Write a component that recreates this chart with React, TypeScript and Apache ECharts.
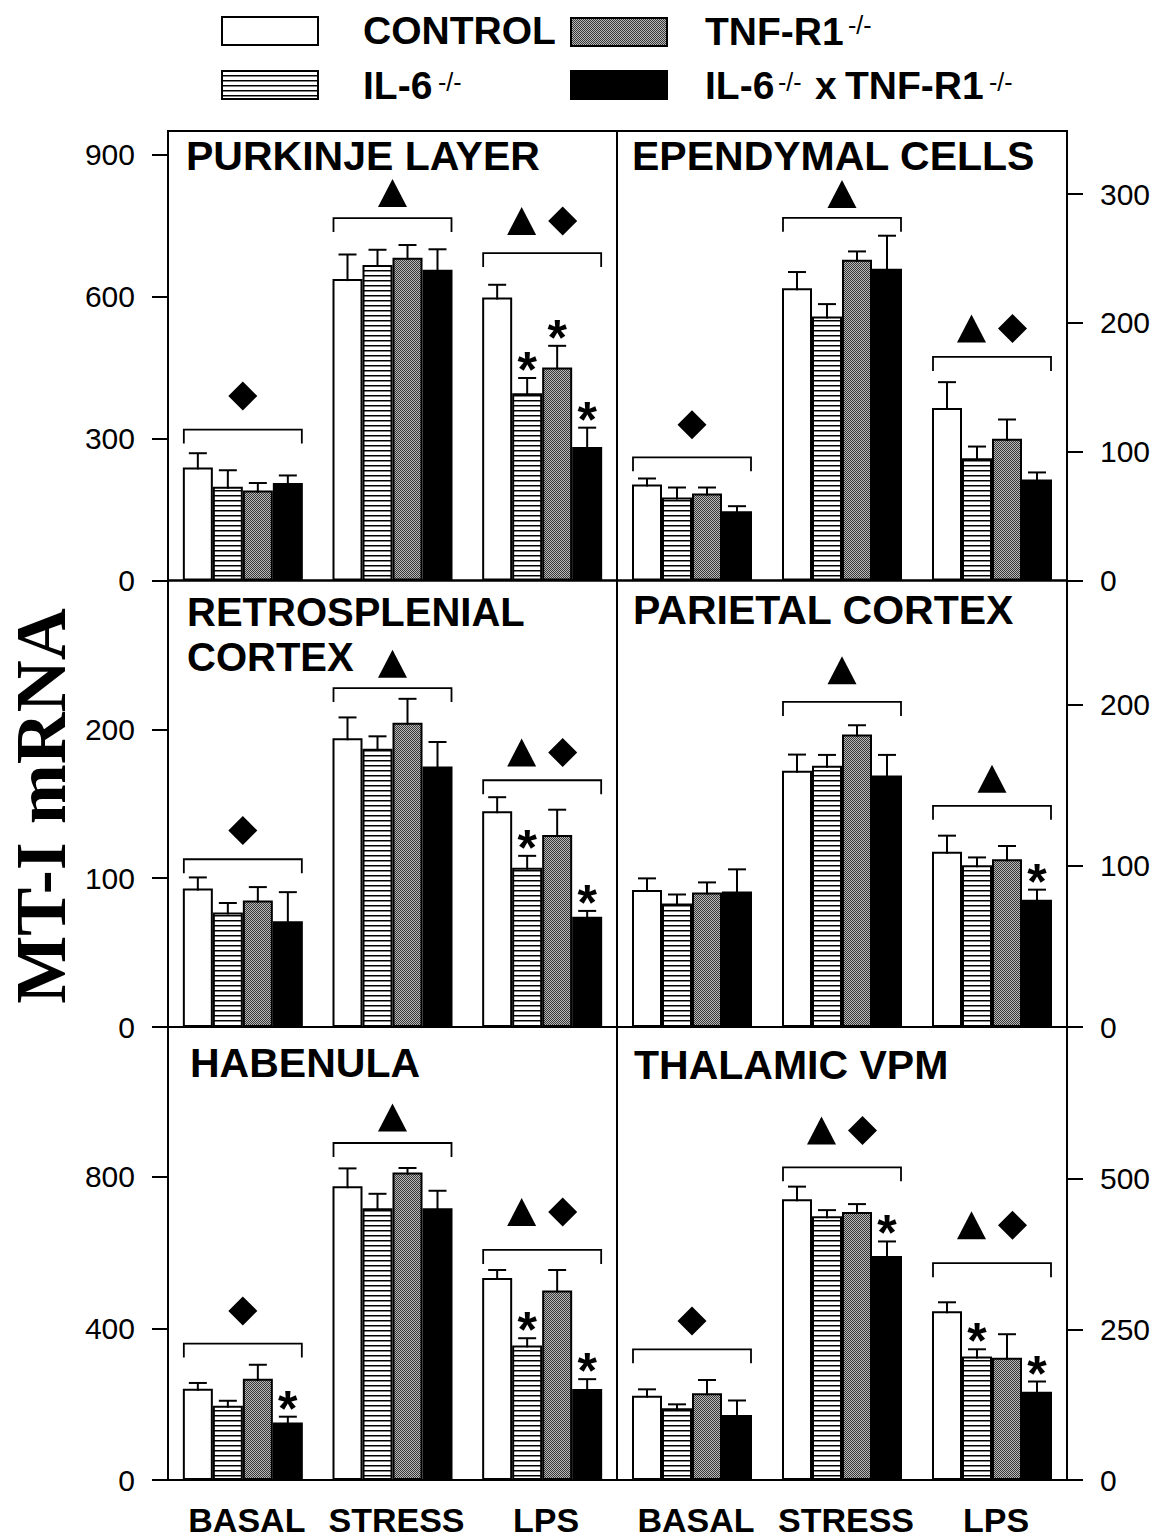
import React, { useEffect, useRef } from 'react';
import * as echarts from 'echarts';

// ---------- DATA ----------
const CONDITIONS = ['BASAL', 'STRESS', 'LPS'];
const GENOTYPES = ['CONTROL', 'IL-6 -/-', 'TNF-R1 -/-', 'IL-6 -/- x TNF-R1 -/-'];

// rows: CONTROL, IL-6-/-, TNF-R1-/-, IL-6-/- x TNF-R1-/- ; cols: BASAL, STRESS, LPS
const PURKINJE_MEAN = [[239, 637, 598], [198, 667, 396], [190, 682, 450], [206, 657, 282]];
const PURKINJE_SEM = [[30, 52, 27], [35, 32, 32], [16, 27, 46], [16, 43, 41]];
const PURKINJE_STARS = [[2, 1], [2, 2], [2, 3]]; // [condition, genotype]
const PURKINJE_MARKS = [[0, 319, 390, 'D'], [1, 766, 819, 'T'], [2, 692, 760, 'TD']]; // [condition, bracket, symbols, kind]
const PURKINJE_TICKS = [0, 300, 600, 900];

const EPENDYMAL_MEAN = [[74.6, 227, 134], [64.4, 205, 95], [67.6, 249, 110], [53.8, 242, 78.5]];
const EPENDYMAL_SEM = [[4.6, 12.5, 20], [7.8, 9.6, 9], [4.6, 6.5, 15], [3.9, 25.7, 5.4]];
const EPENDYMAL_STARS: number[][] = [];
const EPENDYMAL_MARKS = [[0, 95.6, 121, 'D'], [1, 281.6, 300, 'T'], [2, 173.6, 195.6, 'TD']];
const EPENDYMAL_TICKS = [0, 100, 200, 300];

const RETRO_MEAN = [[93, 194, 145], [77, 187, 107], [85, 204.5, 129], [71, 175, 74]];
const RETRO_SEM = [[7.5, 14, 9.4], [6.3, 8.3, 8], [9, 16, 17], [19.6, 16.5, 4]];
const RETRO_STARS = [[2, 1], [2, 3]];
const RETRO_MARKS = [[0, 112.7, 132, 'D'], [1, 227.7, 244, 'T'], [2, 165.8, 184.4, 'TD']];
const RETRO_TICKS = [0, 100, 200];

const PARIETAL_MEAN = [[85, 159, 108.7], [76.6, 162, 100.4], [83.5, 181.4, 104], [84, 156, 79]];
const PARIETAL_SEM = [[7.2, 10, 10], [5.6, 6.8, 4.8], [6.2, 5.8, 8.3], [13.8, 12.8, 6.2]];
const PARIETAL_STARS = [[2, 3]];
const PARIETAL_MARKS = [[1, 201.7, 221.3, 'T'], [2, 137.2, 154, 'T']];
const PARIETAL_TICKS = [0, 100, 200];

const HABENULA_MEAN = [[241, 775, 533], [196, 717, 355], [267, 811, 500], [152, 717, 240]];
const HABENULA_SEM = [[15, 47, 21], [13, 38, 19], [37, 12, 54], [15, 46, 26]];
const HABENULA_STARS = [[0, 3], [2, 1], [2, 3]];
const HABENULA_MARKS = [[0, 360, 446, 'D'], [1, 889, 956, 'T'], [2, 607, 707, 'TD']];
const HABENULA_TICKS = [0, 400, 800];

const VPM_MEAN = [[140, 466, 280], [119, 438, 205], [144, 445, 203], [108, 372, 146.5]];
const VPM_SEM = [[10.5, 21, 15], [6.6, 10, 12], [22, 13, 39], [24, 24, 17]];
const VPM_STARS = [[1, 3], [2, 1], [2, 3]];
const VPM_MARKS = [[0, 217, 264, 'D'], [1, 519, 580, 'TD'], [2, 360, 423, 'TD']];
const VPM_TICKS = [0, 250, 500];

const Y_TITLE = 'MT-I mRNA';

// ---------- LAYOUT ----------
const SANS = "'Liberation Sans', Arial, Helvetica, sans-serif";
const SERIF = "'Liberation Serif', 'Times New Roman', serif";
const COL_LEFT = [168, 617];
const COL_WIDTH = [449, 450];
const ROW_TOP = [131, 580.5, 1027];
const ROW_HEIGHT = [449.5, 446.5, 453];
const BAR_W = 30;

const PANELS = [
  { title: ['PURKINJE LAYER'], mean: PURKINJE_MEAN, sem: PURKINJE_SEM, stars: PURKINJE_STARS, marks: PURKINJE_MARKS, ticks: PURKINJE_TICKS, max: 950, col: 0, row: 0, tx: 18, ty: [39], ts: 41 },
  { title: ['EPENDYMAL CELLS'], mean: EPENDYMAL_MEAN, sem: EPENDYMAL_SEM, stars: EPENDYMAL_STARS, marks: EPENDYMAL_MARKS, ticks: EPENDYMAL_TICKS, max: 349, col: 1, row: 0, tx: 15, ty: [39], ts: 41 },
  { title: ['RETROSPLENIAL', 'CORTEX'], mean: RETRO_MEAN, sem: RETRO_SEM, stars: RETRO_STARS, marks: RETRO_MARKS, ticks: RETRO_TICKS, max: 300, col: 0, row: 1, tx: 19, ty: [45, 90], ts: 40 },
  { title: ['PARIETAL CORTEX'], mean: PARIETAL_MEAN, sem: PARIETAL_SEM, stars: PARIETAL_STARS, marks: PARIETAL_MARKS, ticks: PARIETAL_TICKS, max: 277, col: 1, row: 1, tx: 16, ty: [44], ts: 41 },
  { title: ['HABENULA'], mean: HABENULA_MEAN, sem: HABENULA_SEM, stars: HABENULA_STARS, marks: HABENULA_MARKS, ticks: HABENULA_TICKS, max: 1195, col: 0, row: 2, tx: 22, ty: [50], ts: 41 },
  { title: ['THALAMIC VPM'], mean: VPM_MEAN, sem: VPM_SEM, stars: VPM_STARS, marks: VPM_MARKS, ticks: VPM_TICKS, max: 752, col: 1, row: 2, tx: 17, ty: [52], ts: 41 },
];

function makePattern(w: number, h: number, draw: (ctx: CanvasRenderingContext2D) => void) {
  const c = document.createElement('canvas');
  c.width = w;
  c.height = h;
  const ctx = c.getContext('2d') as CanvasRenderingContext2D;
  draw(ctx);
  return { image: c, repeat: 'repeat', imageWidth: w, imageHeight: h } as any;
}

function baselineY(baseline: number, size: number) {
  return baseline - 0.3465 * size;
}

function buildOption() {
  const stripes = makePattern(4, 5, (ctx) => {
    ctx.fillStyle = '#ffffff';
    ctx.fillRect(0, 0, 4, 5);
    ctx.fillStyle = '#000000';
    ctx.fillRect(0, 0, 4, 1);
    ctx.fillStyle = '#808080';
    ctx.fillRect(0, 1, 4, 1);
  });
  const dots = makePattern(2, 2, (ctx) => {
    ctx.fillStyle = '#b8b8b8';
    ctx.fillRect(0, 0, 2, 2);
    ctx.fillStyle = '#383838';
    ctx.fillRect(0, 0, 1, 1);
    ctx.fillRect(1, 1, 1, 1);
  });
  const FILLS = ['#ffffff', stripes, dots, '#000000'];

  const grid: any[] = [];
  const xAxis: any[] = [];
  const yAxis: any[] = [];
  const series: any[] = [];
  const graphic: any[] = [];

  PANELS.forEach((p, i) => {
    const left = COL_LEFT[p.col];
    const top = ROW_TOP[p.row];
    grid.push({
      left, top, width: COL_WIDTH[p.col], height: ROW_HEIGHT[p.row],
      show: true, borderColor: '#000', borderWidth: 2, backgroundColor: 'transparent',
    });
    xAxis.push({
      gridIndex: i, type: 'category', data: CONDITIONS,
      axisLine: { show: false }, axisTick: { show: false }, splitLine: { show: false },
      axisLabel: {
        show: p.row === 2, fontSize: 34, fontWeight: 'bold', color: '#000', fontFamily: SANS,
        margin: 23, lineHeight: 34, interval: 0, padding: [0, 0, 0, 8],
      },
    });
    yAxis.push({
      gridIndex: i, type: 'value', min: 0, max: p.max,
      position: p.col === 0 ? 'left' : 'right',
      axisLine: { show: false },
      splitLine: { show: false },
      axisTick: { show: true, inside: false, length: 16, lineStyle: { color: '#000', width: 2 }, customValues: p.ticks },
      axisLabel: { customValues: p.ticks, fontSize: 30, color: '#000', fontFamily: SANS, margin: 33 },
    });

    p.mean.forEach((vals, g) => {
      series.push({
        type: 'bar', name: GENOTYPES[g], xAxisIndex: i, yAxisIndex: i,
        data: vals, barWidth: BAR_W, barGap: '0%', silent: true, z: 2,
        itemStyle: { color: FILLS[g], borderColor: '#000', borderWidth: 2 },
      });
    });

    const errData: any[] = [];
    p.mean.forEach((vals, g) => {
      vals.forEach((m, c) => {
        const star = p.stars.some((s) => s[0] === c && s[1] === g) ? 1 : 0;
        errData.push([c, g, m, p.sem[g][c], star]);
      });
    });
    series.push({
      type: 'custom', xAxisIndex: i, yAxisIndex: i, z: 3, silent: true,
      data: errData, encode: { x: 0, y: 2 },
      renderItem: (_params: any, api: any) => {
        const c = api.value(0), g = api.value(1), m = api.value(2), s = api.value(3), star = api.value(4);
        const base = api.coord([c, m]);
        const tip = api.coord([c, m + s]);
        const x = base[0] + (g - 1.5) * BAR_W;
        const children: any[] = [
          { type: 'line', shape: { x1: x, y1: base[1] + 2, x2: x, y2: tip[1] }, style: { stroke: '#000', lineWidth: 2 } },
          { type: 'line', shape: { x1: x - 9, y1: tip[1], x2: x + 9, y2: tip[1] }, style: { stroke: '#000', lineWidth: 2 } },
        ];
        if (star) {
          children.push({
            type: 'text', x, y: tip[1] - 8,
            style: { text: '*', fontSize: 50, fontWeight: 'bold', fontFamily: SANS, fill: '#000', align: 'center', verticalAlign: 'middle' },
          });
        }
        return { type: 'group', children };
      },
    });

    const marks = p.marks;
    series.push({
      type: 'custom', xAxisIndex: i, yAxisIndex: i, z: 3, silent: true,
      data: marks.map((mk) => [mk[0], mk[1], mk[2]]), encode: { x: 0, y: 1 },
      renderItem: (params: any, api: any) => {
        const c = api.value(0);
        const b = api.coord([c, api.value(1)]);
        const sy = api.coord([c, api.value(2)])[1];
        const kind = marks[params.dataIndex][3] as string;
        const cx = b[0];
        const hw = 59;
        const children: any[] = [
          {
            type: 'polyline',
            shape: { points: [[cx - hw, b[1] + 14], [cx - hw, b[1]], [cx + hw, b[1]], [cx + hw, b[1] + 14]] },
            style: { stroke: '#000', lineWidth: 1.8, fill: null },
          },
        ];
        const tri = (x: number) => ({
          type: 'polygon', shape: { points: [[x - 14.5, sy + 14], [x + 14.5, sy + 14], [x, sy - 14]] }, style: { fill: '#000' },
        });
        const dia = (x: number) => ({
          type: 'polygon', shape: { points: [[x, sy - 14.5], [x + 14.5, sy], [x, sy + 14.5], [x - 14.5, sy]] }, style: { fill: '#000' },
        });
        if (kind === 'D') children.push(dia(cx));
        if (kind === 'T') children.push(tri(cx));
        if (kind === 'TD') { children.push(tri(cx - 20.5)); children.push(dia(cx + 20.5)); }
        return { type: 'group', children };
      },
    });

    p.title.forEach((t, k) => {
      graphic.push({
        type: 'text', x: left + p.tx, y: baselineY(top + p.ty[k], p.ts), z: 10,
        style: { text: t, fontSize: p.ts, fontWeight: 'bold', fontFamily: SANS, fill: '#000', align: 'left', verticalAlign: 'middle' },
      });
    });
  });

  // y title
  graphic.push({
    type: 'text', x: 41, y: 806, rotation: Math.PI / 2, z: 10,
    style: { text: Y_TITLE, fontSize: 72, fontWeight: 'bold', fontFamily: SERIF, fill: '#000', align: 'center', verticalAlign: 'middle' },
  });

  // legend
  const boxes = [
    { x: 222, y: 17, fill: FILLS[0] },
    { x: 222, y: 71, fill: FILLS[1] },
    { x: 571, y: 18, fill: FILLS[2] },
    { x: 571, y: 71, fill: FILLS[3] },
  ];
  boxes.forEach((b) => {
    graphic.push({ type: 'rect', shape: { x: b.x, y: b.y, width: 96, height: 28 }, style: { fill: b.fill, stroke: '#000', lineWidth: 2 }, z: 10 });
  });
  const legText = (text: string, x: number, baseline: number) => ({
    type: 'text', x, y: baselineY(baseline, 39), z: 10,
    style: { text, fontSize: 39, fontWeight: 'bold', fontFamily: SANS, fill: '#000', align: 'left', verticalAlign: 'middle' },
  });
  const sup = (x: number, y: number) => ({
    type: 'text', x, y, z: 10,
    style: { text: '-/-', fontSize: 25, fontFamily: SANS, fill: '#000', align: 'left', verticalAlign: 'middle' },
  });
  graphic.push(legText('CONTROL', 363, 44));
  graphic.push(legText('IL-6', 363, 99));
  graphic.push(sup(438, 82));
  graphic.push(legText('TNF-R1', 705, 45));
  graphic.push(sup(848, 25));
  graphic.push(legText('IL-6', 705, 99));
  graphic.push(sup(778, 82));
  graphic.push(legText('x', 815, 99));
  graphic.push(legText('TNF-R1', 845, 99));
  graphic.push(sup(989, 82));

  return {
    animation: false,
    backgroundColor: '#ffffff',
    grid, xAxis, yAxis, series, graphic,
  };
}

export default function App() {
  const ref = useRef<HTMLDivElement>(null);
  useEffect(() => {
    if (!ref.current) return;
    const chart = echarts.init(ref.current, undefined, { renderer: 'svg' });
    chart.setOption(buildOption() as any);
    return () => chart.dispose();
  }, []);
  return (
    <div
      ref={ref}
      style={{ position: 'absolute', left: 0, top: 0, width: 1157, height: 1540, background: '#fff' }}
    />
  );
}
